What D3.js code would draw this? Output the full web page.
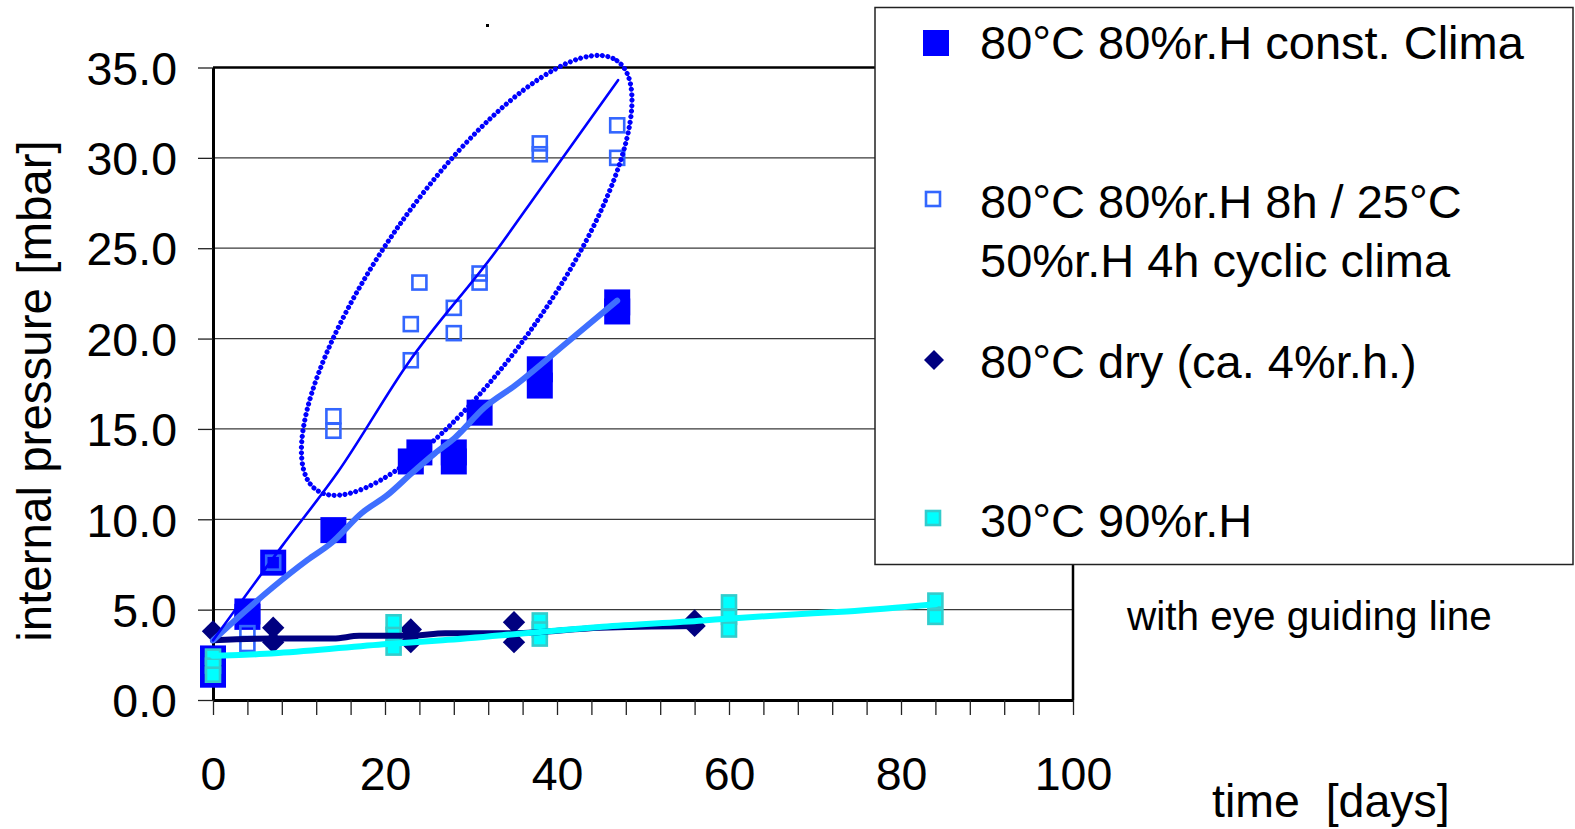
<!DOCTYPE html>
<html>
<head>
<meta charset="utf-8">
<script src="https://cdn.jsdelivr.net/npm/d3@7"></script>
<style>
  html, body { margin: 0; padding: 0; background: #fff; }
  svg { display: block; font-family: "Liberation Sans", Arial, sans-serif; }
</style>
</head>
<body>
<div id="chart"></div>
<script>
// series: 80°C 80%r.H const. clima (filled squares)
const constDays = [0, 0, 4, 4, 7, 14, 23, 24, 28, 28, 31, 38, 38, 47, 47];
const constPressure = [2.3, 1.4, 4.9, 4.6, 7.6, 9.4, 13.2, 13.7, 13.7, 13.2, 15.9, 18.3, 17.4, 22.0, 21.5];

// series: cyclic clima (open squares)
const cyclicDays = [4, 4, 7, 14, 14, 23, 23, 24, 28, 28, 31, 31, 38, 38, 47, 47];
const cyclicPressure = [3.7, 3.1, 7.6, 15.7, 14.9, 20.8, 18.8, 23.1, 21.7, 20.3, 23.6, 23.1, 30.8, 30.2, 31.8, 30.0];

// series: 80°C dry (diamonds)
const dryDays = [0, 7, 7, 23, 23, 35, 35, 56, 56];
const dryPressure = [3.8, 4.0, 3.2, 3.9, 3.2, 4.3, 3.2, 4.4, 4.1];

// series: 30°C 90%r.H (cyan squares)
const humidDays = [0, 0, 0, 21, 21, 21, 38, 38, 38, 60, 60, 60, 84, 84];
const humidPressure = [2.4, 1.9, 1.4, 4.3, 3.6, 2.9, 4.4, 3.9, 3.4, 5.4, 4.6, 3.9, 5.5, 4.6];

// eye guiding lines
const guideConstDays = [0, 3.7, 7, 11, 13.8, 17.3, 20.3, 23.1, 25.8, 28.1, 31.6, 35.1, 41.2, 47];
const guideConstPressure = [3.3, 4.9, 6.25, 7.75, 8.7, 10.35, 11.35, 12.55, 13.65, 14.5, 16.2, 17.4, 19.8, 22.1];
const guideCyclicDays = [0, 8, 14.5, 22.7, 33, 37.8, 47.1];
const guideCyclicPressure = [3.3, 8.5, 12.6, 18.65, 24.9, 28.1, 34.3];
const guideDryDays = [0, 7, 14, 17, 23, 27, 35, 45, 56];
const guideDryPressure = [3.3, 3.4, 3.4, 3.55, 3.55, 3.7, 3.7, 4.0, 4.1];
const guideHumidDays = [0, 3.7, 7.6, 20.3, 26.7, 37.7, 45.3, 57, 59.8, 69.8, 73.7, 84];
const guideHumidPressure = [2.45, 2.5, 2.6, 3.1, 3.3, 3.75, 4.05, 4.4, 4.5, 4.8, 4.9, 5.3];

// axis ticks
const yTicks = [0, 5, 10, 15, 20, 25, 30, 35];
const xTicks = d3.range(0, 101, 4);
const xLabels = [0, 20, 40, 60, 80, 100];

const legendLabels = [
  ["80°C 80%r.H const. Clima"],
  ["80°C 80%r.H 8h / 25°C", "50%r.H 4h cyclic clima"],
  ["80°C dry (ca. 4%r.h.)"],
  ["30°C 90%r.H"]
];

const zip = (a, b) => a.map((v, i) => [v, b[i]]);

const W = 1575, H = 829;
const margin = { top: 67.5, left: 213, right: 502, bottom: 129 };
const width = W - margin.left - margin.right;
const height = H - margin.top - margin.bottom;

const svg = d3.select("#chart").append("svg")
  .attr("width", W).attr("height", H);

const g = svg.append("g")
  .attr("transform", `translate(${margin.left},${margin.top})`);

const x = d3.scaleLinear().domain([0, 100]).range([0, width]);
const y = d3.scaleLinear().domain([0, 35]).range([height, 0]);

// gridlines
g.selectAll(".grid")
  .data(yTicks.filter(d => d > 0 && d < 35))
  .enter().append("line")
  .attr("x1", 0).attr("x2", width)
  .attr("y1", d => y(d)).attr("y2", d => y(d))
  .attr("stroke", "#3a3a3a").attr("stroke-width", 1.3);

// frame top / right
g.append("line").attr("x1", 0).attr("x2", width).attr("y1", 0).attr("y2", 0)
  .attr("stroke", "#000").attr("stroke-width", 2.5);
g.append("line").attr("x1", width).attr("x2", width).attr("y1", 0).attr("y2", height)
  .attr("stroke", "#000").attr("stroke-width", 2.5);

// y axis
const yAxis = g.append("g")
  .call(d3.axisLeft(y).tickValues(yTicks).tickFormat(d3.format(".1f"))
    .tickSize(15).tickSizeOuter(0).tickPadding(21));
yAxis.select(".domain").attr("stroke-width", 3);
yAxis.selectAll(".tick line").attr("stroke", "#222").attr("stroke-width", 1.3);
yAxis.selectAll("text")
  .attr("font-size", 46.5).attr("fill", "#000")
  .attr("font-family", "'Liberation Sans', Arial, sans-serif")
  .attr("dy", "0.36em");

// x axis
const xAxis = g.append("g")
  .attr("transform", `translate(0,${height})`)
  .call(d3.axisBottom(x).tickValues(xTicks)
    .tickFormat(d => xLabels.includes(d) ? d : "")
    .tickSize(15).tickSizeOuter(0));
xAxis.select(".domain").attr("stroke-width", 3);
xAxis.selectAll(".tick line").attr("stroke", "#222").attr("stroke-width", 1.3);
xAxis.selectAll("text")
  .attr("font-size", 46.5).attr("fill", "#000")
  .attr("font-family", "'Liberation Sans', Arial, sans-serif")
  .attr("y", 90).attr("dy", null);

// markers: filled squares
const fs = 26;
g.selectAll(".constPt")
  .data(zip(constDays, constPressure))
  .enter().append("rect")
  .attr("x", d => x(d[0]) - fs / 2).attr("y", d => y(d[1]) - fs / 2)
  .attr("width", fs).attr("height", fs)
  .attr("fill", "#0000ff");

// markers: open squares
const os = 14;
g.selectAll(".cyclicPt")
  .data(zip(cyclicDays, cyclicPressure))
  .enter().append("rect")
  .attr("x", d => x(d[0]) - os / 2).attr("y", d => y(d[1]) - os / 2)
  .attr("width", os).attr("height", os)
  .attr("fill", "none").attr("stroke", "#3366ff").attr("stroke-width", 2.6);

// markers: diamonds
const diamond = d3.symbol().type(d3.symbolSquare).size(250);
g.selectAll(".dryPt")
  .data(zip(dryDays, dryPressure))
  .enter().append("path")
  .attr("d", diamond)
  .attr("transform", d => `translate(${x(d[0])},${y(d[1])}) rotate(45)`)
  .attr("fill", "#000080");

// markers: cyan squares
const cs = 14;
g.selectAll(".humidPt")
  .data(zip(humidDays, humidPressure))
  .enter().append("rect")
  .attr("x", d => x(d[0]) - cs / 2).attr("y", d => y(d[1]) - cs / 2)
  .attr("width", cs).attr("height", cs)
  .attr("fill", "#00ffff").attr("stroke", "#33cccc").attr("stroke-width", 2.6);

// guide lines
const line = d3.line().x(d => x(d[0])).y(d => y(d[1])).curve(d3.curveMonotoneX);
const guides = [
  { pts: zip(guideDryDays, guideDryPressure), color: "#000080", w: 6 },
  { pts: zip(guideHumidDays, guideHumidPressure), color: "#00ffff", w: 6 },
  { pts: zip(guideConstDays, guideConstPressure), color: "#3f6fff", w: 6 },
  { pts: zip(guideCyclicDays, guideCyclicPressure), color: "#0000ff", w: 2.6 }
];
guides.forEach(gd => {
  g.append("path")
    .attr("d", line(gd.pts))
    .attr("fill", "none")
    .attr("stroke", gd.color)
    .attr("stroke-width", gd.w)
    .attr("stroke-linecap", "round")
    .attr("stroke-linejoin", "round");
});

// dotted ellipse round the cyclic data
const ellCenter = [29.5, 23.5];
g.append("ellipse")
  .attr("cx", x(ellCenter[0])).attr("cy", y(ellCenter[1]))
  .attr("rx", 262).attr("ry", 84)
  .attr("transform", `rotate(-55,${x(ellCenter[0])},${y(ellCenter[1])})`)
  .attr("fill", "none")
  .attr("stroke", "#0000ff")
  .attr("stroke-width", 5)
  .attr("stroke-linecap", "round")
  .attr("stroke-dasharray", "0 5.5");

// small stray mark above the chart
svg.append("rect").attr("x", 486).attr("y", 24).attr("width", 3).attr("height", 3).attr("fill", "#000");

// y axis title
svg.append("text")
  .attr("transform", "translate(51,391) rotate(-90)")
  .attr("text-anchor", "middle")
  .attr("font-size", 47.5)
  .text("internal pressure [mbar]");

// x axis title
svg.append("text")
  .attr("x", 1212).attr("y", 817)
  .attr("font-size", 46.5)
  .style("white-space", "pre")
  .text("time  [days]");

svg.append("text")
  .attr("x", 1127).attr("y", 630)
  .attr("font-size", 40.5)
  .text("with eye guiding line");

// legend
const lg = svg.append("g");
lg.append("rect")
  .attr("x", 875).attr("y", 7.5).attr("width", 698).attr("height", 557)
  .attr("fill", "#fff").attr("stroke", "#222").attr("stroke-width", 1.5);

const legendY = [59, 218, 378, 537];
const tx = 980;
legendLabels.forEach((lines, i) => {
  lines.forEach((t, j) => {
    lg.append("text")
      .attr("x", tx).attr("y", legendY[i] + j * 59)
      .attr("font-size", 47)
      .text(t);
  });
});
lg.append("rect").attr("x", 923).attr("y", 30).attr("width", 26).attr("height", 26).attr("fill", "#0000ff");
lg.append("rect").attr("x", 926).attr("y", 192).attr("width", 14).attr("height", 14)
  .attr("fill", "none").attr("stroke", "#3366ff").attr("stroke-width", 2.6);
lg.append("path").attr("d", d3.symbol().type(d3.symbolSquare).size(200))
  .attr("transform", "translate(934,360) rotate(45)").attr("fill", "#000080");
lg.append("rect").attr("x", 926).attr("y", 511).attr("width", 14).attr("height", 14)
  .attr("fill", "#00ffff").attr("stroke", "#33cccc").attr("stroke-width", 2.6);
</script>
</body>
</html>
